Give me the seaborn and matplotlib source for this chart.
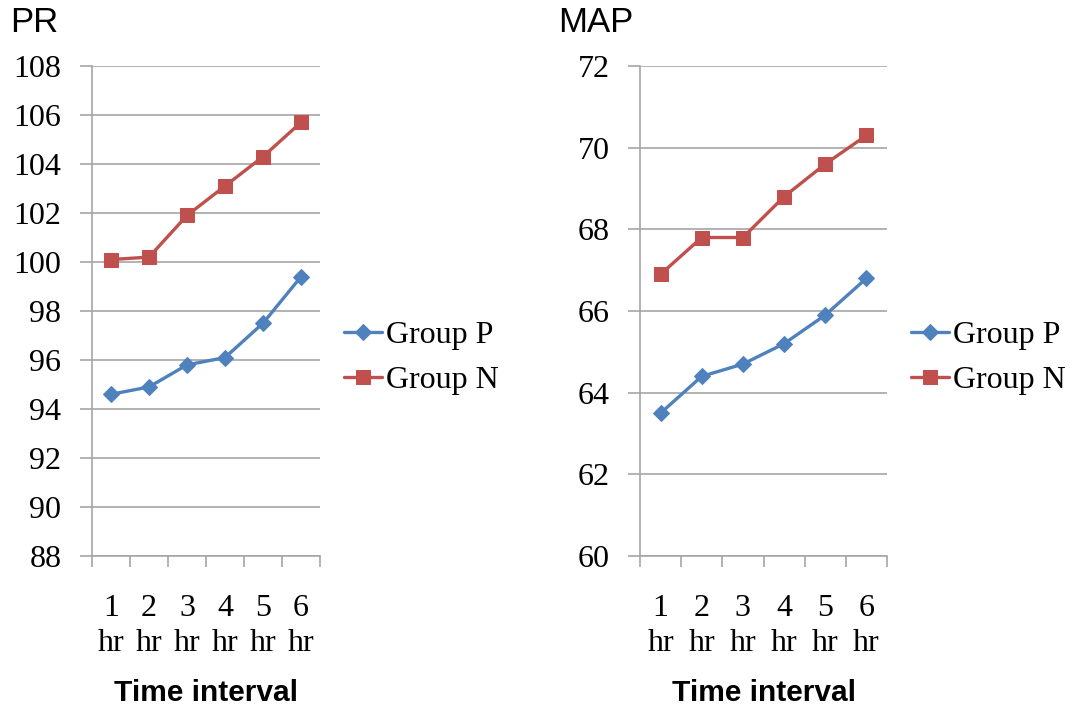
import matplotlib
matplotlib.use("Agg")
import matplotlib.pyplot as plt
import seaborn as sns
import pandas as pd
import numpy as np

categories = ["1\nhr", "2\nhr", "3\nhr", "4\nhr", "5\nhr", "6\nhr"]
groups = ["Group P", "Group N"]
pr_group_p = [94.6, 94.9, 95.8, 96.1, 97.5, 99.4]
pr_group_n = [100.1, 100.2, 101.9, 103.1, 104.3, 105.7]
map_group_p = [63.5, 64.4, 64.7, 65.2, 65.9, 66.8]
map_group_n = [66.9, 67.8, 67.8, 68.8, 69.6, 70.3]

sns.set_style("white")
plt.rcParams["font.family"] = ["Liberation Serif", "DejaVu Serif"]
plt.rcParams["text.color"] = "black"
plt.rcParams["axes.labelcolor"] = "black"
plt.rcParams["xtick.color"] = "black"
plt.rcParams["ytick.color"] = "black"

colors = {"Group P": "#4F81BD", "Group N": "#C0504D"}
markers = {"Group P": "D", "Group N": "s"}
msize = {"Group P": 8, "Group N": 10}
grid_c = "#A6A6A6"
sans = ["Liberation Sans", "DejaVu Sans"]

fig = plt.figure(figsize=(10.7, 7.12), dpi=100)
ax1 = fig.add_axes([92/1070, 1-556/712, 228/1070, 490/712])
ax2 = fig.add_axes([640/1070, 1-556/712, 247/1070, 490/712])

def make_df(p, n):
    return pd.DataFrame({
        "time": categories * 2,
        "value": p + n,
        "group": ["Group P"] * len(p) + ["Group N"] * len(n),
    })

def draw(ax, df, ylim, yticks, title, title_x, legend_x):
    for g in groups:
        sub = df[df.group == g]
        sns.lineplot(data=sub, x="time", y="value", ax=ax, color=colors[g],
                     marker=markers[g], markersize=msize[g], linewidth=2.4,
                     markeredgecolor=colors[g], label=g, sort=False)
    ax.set_xlim(-0.5, len(categories) - 0.5)
    ax.set_ylim(*ylim)
    ax.set_yticks(yticks)
    ax.set_yticklabels([str(t) for t in yticks], fontsize=23)
    ax.yaxis.grid(True, color=grid_c, linewidth=1.2)
    ax.set_axisbelow(True)
    for s in ["top", "right"]:
        ax.spines[s].set_visible(False)
    for s in ["left", "bottom"]:
        ax.spines[s].set_color(grid_c)
        ax.spines[s].set_linewidth(1.2)
    ax.tick_params(axis="y", length=9, width=1.2, color=grid_c, labelcolor="black",
                   direction="out", pad=13, left=True)
    ax.set_xticks(range(len(categories)))
    ax.set_xticklabels(categories, fontsize=23, linespacing=1.3)
    ax.tick_params(axis="x", which="major", length=0, pad=27)
    ax.set_xticks(np.arange(-0.5, len(categories), 1.0), minor=True)
    ax.tick_params(axis="x", which="minor", length=8, width=1.2, color=grid_c,
                   direction="out", bottom=True)
    ax.set_xlabel("Time interval", fontsize=21.5, fontweight="bold", family=sans, labelpad=15)
    ax.set_ylabel("")
    fig.text(title_x, 1 - 22/712, title, fontsize=25, family=sans,
             ha="left", va="center")
    ax.legend(loc="center left", bbox_to_anchor=(legend_x, 1 - 358/712),
              bbox_transform=fig.transFigure, frameon=False, fontsize=23,
              handlelength=1.2, handletextpad=0.1, labelspacing=0.5,
              borderpad=0, borderaxespad=0)

draw(ax1, make_df(pr_group_p, pr_group_n), (88, 108), list(range(88, 109, 2)), "PR", 10/1070, 344/1070)
draw(ax2, make_df(map_group_p, map_group_n), (60, 72), list(range(60, 73, 2)), "MAP", 558/1070, 911/1070)

fig.savefig("out.png", dpi=100)
